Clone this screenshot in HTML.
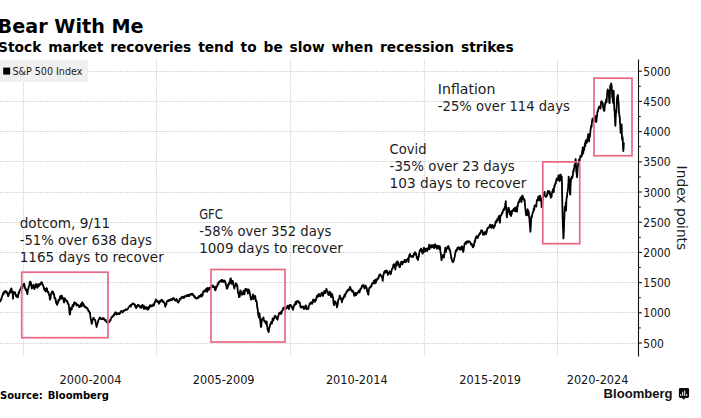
<!DOCTYPE html>
<html lang="en"><head><meta charset="utf-8"><title>Bear With Me</title>
<style>html,body{margin:0;padding:0;background:#fff;}body{width:701px;height:418px;overflow:hidden;}svg{display:block;}text{font-family:"DejaVu Sans", "Liberation Sans", sans-serif;}text.c{font-family:"DejaVu Sans Condensed","DejaVu Sans","Liberation Sans",sans-serif;font-stretch:condensed;}</style>
</head><body>
<svg width="701" height="418" viewBox="0 0 701 418">
<rect x="0" y="0" width="701" height="418" fill="#ffffff"/>
<g stroke="#c8c8c8" stroke-width="1" stroke-dasharray="1.1 1.25" fill="none">
<line x1="0" y1="343.50" x2="638" y2="343.50"/>
<line x1="0" y1="312.50" x2="638" y2="312.50"/>
<line x1="0" y1="282.50" x2="638" y2="282.50"/>
<line x1="0" y1="252.50" x2="638" y2="252.50"/>
<line x1="0" y1="222.50" x2="638" y2="222.50"/>
<line x1="0" y1="192.50" x2="638" y2="192.50"/>
<line x1="0" y1="161.50" x2="638" y2="161.50"/>
<line x1="0" y1="131.50" x2="638" y2="131.50"/>
<line x1="0" y1="101.50" x2="638" y2="101.50"/>
<line x1="0" y1="71.50" x2="638" y2="71.50"/>
</g>
<g stroke="#cccccc" stroke-width="1" stroke-dasharray="1.1 1.25" fill="none">
<line x1="23.50" y1="60" x2="23.50" y2="356.5"/>
<line x1="156.50" y1="60" x2="156.50" y2="356.5"/>
<line x1="290.50" y1="60" x2="290.50" y2="356.5"/>
<line x1="424.50" y1="60" x2="424.50" y2="356.5"/>
<line x1="557.50" y1="60" x2="557.50" y2="356.5"/>
</g>
<rect x="0" y="60" width="88" height="22" fill="#efefef" fill-opacity="0.93"/>
<rect x="3.2" y="67.6" width="7" height="7" fill="#000"/>
<text class="c" x="12.5" y="75" font-size="10.4" fill="#1a1a1a" textLength="69.8" lengthAdjust="spacingAndGlyphs">S&amp;P 500 Index</text>
<path d="M0.00 299.64 L0.16 299.73 L0.32 300.48 L0.48 301.47 L0.64 300.30 L0.80 299.83 L0.96 299.42 L1.12 299.09 L1.28 299.38 L1.44 299.08 L1.60 297.88 L1.76 297.09 L1.92 297.07 L2.08 296.59 L2.24 296.17 L2.40 295.24 L2.56 295.38 L2.72 295.20 L2.88 294.63 L3.04 293.18 L3.20 293.94 L3.36 293.76 L3.52 293.45 L3.68 294.05 L3.84 293.31 L4.00 292.18 L4.16 291.92 L4.32 291.51 L4.48 292.38 L4.64 292.12 L4.80 291.72 L4.96 292.23 L5.12 291.37 L5.28 291.81 L5.44 290.94 L5.60 290.90 L5.76 290.86 L5.92 291.62 L6.08 292.68 L6.24 292.22 L6.40 292.59 L6.56 292.36 L6.72 292.91 L6.88 292.60 L7.04 292.12 L7.20 292.12 L7.36 292.74 L7.52 294.46 L7.68 294.79 L7.84 294.65 L8.00 296.07 L8.16 296.20 L8.32 296.22 L8.48 295.78 L8.64 295.13 L8.80 294.45 L8.96 293.36 L9.12 293.38 L9.28 293.01 L9.44 293.36 L9.60 292.61 L9.76 291.26 L9.92 291.06 L10.08 292.06 L10.24 292.33 L10.40 292.48 L10.56 290.71 L10.72 289.58 L10.88 289.93 L11.04 289.11 L11.20 289.00 L11.36 288.42 L11.52 288.33 L11.68 289.85 L11.84 291.17 L12.00 291.22 L12.16 291.77 L12.32 292.57 L12.48 293.43 L12.64 293.72 L12.80 296.27 L12.96 298.76 L13.12 297.53 L13.28 294.86 L13.44 293.46 L13.60 292.14 L13.76 291.74 L13.92 292.27 L14.08 292.81 L14.24 292.59 L14.40 292.61 L14.56 292.90 L14.72 292.75 L14.88 292.68 L15.04 292.33 L15.20 292.52 L15.36 294.11 L15.52 294.41 L15.68 294.52 L15.84 294.96 L16.00 295.76 L16.16 296.38 L16.32 296.70 L16.48 295.78 L16.64 295.81 L16.80 295.34 L16.96 295.95 L17.12 295.79 L17.28 296.90 L17.44 296.50 L17.60 296.38 L17.76 296.69 L17.92 297.32 L18.08 296.87 L18.24 295.36 L18.40 294.29 L18.56 292.83 L18.72 292.31 L18.88 292.43 L19.04 293.37 L19.20 292.41 L19.36 291.37 L19.52 291.27 L19.68 290.80 L19.84 290.19 L20.00 290.14 L20.16 289.78 L20.32 289.31 L20.48 289.21 L20.64 288.94 L20.80 288.19 L20.96 287.79 L21.12 287.46 L21.28 287.55 L21.44 286.97 L21.60 286.29 L21.76 286.84 L21.92 287.26 L22.08 287.96 L22.24 288.11 L22.40 287.10 L22.56 286.66 L22.72 285.71 L22.88 285.11 L23.04 284.75 L23.20 284.51 L23.36 284.43 L23.52 284.07 L23.68 284.03 L23.84 284.01 L24.00 284.21 L24.16 284.00 L24.32 283.94 L24.48 284.83 L24.64 286.19 L24.80 287.86 L24.96 287.07 L25.12 287.83 L25.28 288.76 L25.44 289.35 L25.60 288.66 L25.76 289.08 L25.92 290.29 L26.08 289.26 L26.24 289.78 L26.40 290.62 L26.56 290.18 L26.72 291.13 L26.88 291.51 L27.04 292.63 L27.20 293.75 L27.36 294.18 L27.52 293.25 L27.68 292.07 L27.84 289.89 L28.00 289.31 L28.16 289.32 L28.32 288.98 L28.48 287.46 L28.64 287.31 L28.80 286.40 L28.96 286.06 L29.12 285.62 L29.28 285.74 L29.44 284.97 L29.60 283.17 L29.76 282.10 L29.92 282.29 L30.08 281.77 L30.24 282.07 L30.40 281.66 L30.56 281.85 L30.72 283.37 L30.88 283.48 L31.04 283.24 L31.20 285.47 L31.36 285.15 L31.52 286.49 L31.68 287.89 L31.84 288.66 L32.00 287.72 L32.16 287.99 L32.32 286.84 L32.48 285.95 L32.64 285.68 L32.80 285.94 L32.96 285.78 L33.12 285.90 L33.28 284.87 L33.44 284.95 L33.60 284.72 L33.76 285.19 L33.92 286.62 L34.08 287.48 L34.24 288.76 L34.40 289.16 L34.56 288.40 L34.72 288.00 L34.88 287.44 L35.04 287.30 L35.20 286.85 L35.36 287.38 L35.52 286.35 L35.68 285.45 L35.84 284.20 L36.00 284.13 L36.16 284.66 L36.32 284.24 L36.48 284.34 L36.64 284.90 L36.80 284.80 L36.96 284.54 L37.12 285.70 L37.28 287.23 L37.44 287.85 L37.60 287.00 L37.76 286.29 L37.92 285.39 L38.08 284.53 L38.24 284.37 L38.40 284.62 L38.56 284.54 L38.72 286.33 L38.88 285.42 L39.04 284.98 L39.20 283.97 L39.36 285.19 L39.52 284.99 L39.68 285.28 L39.84 284.93 L40.00 284.95 L40.16 284.63 L40.32 284.31 L40.48 284.30 L40.64 283.99 L40.80 284.26 L40.96 283.41 L41.12 282.47 L41.28 282.21 L41.44 282.28 L41.60 282.72 L41.76 283.37 L41.92 282.28 L42.08 282.92 L42.24 284.25 L42.40 284.38 L42.56 284.19 L42.72 284.70 L42.88 284.66 L43.04 285.44 L43.20 285.65 L43.36 286.79 L43.52 287.13 L43.68 286.68 L43.84 287.29 L44.00 288.60 L44.16 289.01 L44.32 289.69 L44.48 289.62 L44.64 290.19 L44.80 289.59 L44.96 288.96 L45.12 288.95 L45.28 289.62 L45.44 290.82 L45.60 291.68 L45.76 291.36 L45.92 290.54 L46.08 290.04 L46.24 290.12 L46.40 289.12 L46.56 288.03 L46.72 288.97 L46.88 288.59 L47.04 288.80 L47.20 289.87 L47.36 291.28 L47.52 291.29 L47.68 292.12 L47.84 291.98 L48.00 292.34 L48.16 292.42 L48.32 291.88 L48.48 292.55 L48.64 293.54 L48.80 293.77 L48.96 294.11 L49.12 295.31 L49.28 294.79 L49.44 295.23 L49.60 296.50 L49.76 298.38 L49.92 299.69 L50.08 299.43 L50.24 298.42 L50.40 297.64 L50.56 298.49 L50.72 295.98 L50.88 294.38 L51.04 293.94 L51.20 293.91 L51.36 293.55 L51.52 292.71 L51.68 292.05 L51.84 292.33 L52.00 292.19 L52.16 291.30 L52.32 291.86 L52.48 292.09 L52.64 292.61 L52.80 292.28 L52.96 291.77 L53.12 291.87 L53.28 292.82 L53.44 294.37 L53.60 293.83 L53.76 294.27 L53.92 293.78 L54.08 294.49 L54.24 295.42 L54.40 297.62 L54.56 298.09 L54.72 298.43 L54.88 298.54 L55.04 297.90 L55.20 297.72 L55.36 298.21 L55.52 299.15 L55.68 300.71 L55.84 300.54 L56.00 302.06 L56.16 302.75 L56.32 303.43 L56.48 302.76 L56.64 303.47 L56.80 304.23 L56.96 304.05 L57.12 304.88 L57.28 304.35 L57.44 303.56 L57.60 303.37 L57.76 303.28 L57.92 302.34 L58.08 301.83 L58.24 300.90 L58.40 300.00 L58.56 299.67 L58.72 299.95 L58.88 300.10 L59.04 299.71 L59.20 300.56 L59.36 299.83 L59.52 299.15 L59.68 299.21 L59.84 298.15 L60.00 296.94 L60.16 296.12 L60.32 296.60 L60.48 296.34 L60.64 296.36 L60.80 297.09 L60.96 297.78 L61.12 298.81 L61.28 297.47 L61.44 295.84 L61.60 295.51 L61.76 295.80 L61.92 296.11 L62.08 296.86 L62.24 297.25 L62.40 297.73 L62.56 298.47 L62.72 298.29 L62.88 298.43 L63.04 297.92 L63.20 298.68 L63.36 298.86 L63.52 299.22 L63.68 300.78 L63.84 301.90 L64.00 302.32 L64.16 302.44 L64.32 300.70 L64.48 299.78 L64.64 298.85 L64.80 298.08 L64.96 299.22 L65.12 299.21 L65.28 299.67 L65.44 299.31 L65.60 299.74 L65.76 300.22 L65.92 300.17 L66.08 300.08 L66.24 300.70 L66.40 301.34 L66.56 301.32 L66.72 301.26 L66.88 301.72 L67.04 300.95 L67.20 301.12 L67.36 301.29 L67.52 301.90 L67.68 302.66 L67.84 303.42 L68.00 303.80 L68.16 303.72 L68.32 303.72 L68.48 303.99 L68.64 304.48 L68.80 304.82 L68.96 306.29 L69.12 308.05 L69.28 310.03 L69.44 311.95 L69.60 313.29 L69.76 314.59 L69.92 314.45 L70.08 314.26 L70.24 312.37 L70.40 310.14 L70.56 308.54 L70.72 309.00 L70.88 308.18 L71.04 308.12 L71.20 307.60 L71.36 308.18 L71.52 308.69 L71.68 309.50 L71.84 308.49 L72.00 307.81 L72.16 306.78 L72.32 306.14 L72.48 305.22 L72.64 304.95 L72.80 305.35 L72.96 306.61 L73.12 305.53 L73.28 305.91 L73.44 305.91 L73.60 305.31 L73.76 304.55 L73.92 303.40 L74.08 302.95 L74.24 302.61 L74.40 302.30 L74.56 302.72 L74.72 302.98 L74.88 303.28 L75.04 303.28 L75.20 303.63 L75.36 303.73 L75.52 303.48 L75.68 303.66 L75.84 303.18 L76.00 302.95 L76.16 303.57 L76.32 304.48 L76.48 305.60 L76.64 304.52 L76.80 304.35 L76.96 304.81 L77.12 304.58 L77.28 305.05 L77.44 304.69 L77.60 304.45 L77.76 304.45 L77.92 304.67 L78.08 304.81 L78.24 305.16 L78.40 305.16 L78.56 305.76 L78.72 306.45 L78.88 306.25 L79.04 305.84 L79.20 306.45 L79.36 307.20 L79.52 307.18 L79.68 306.53 L79.84 306.43 L80.00 306.89 L80.16 305.61 L80.32 305.61 L80.48 305.22 L80.64 304.65 L80.80 304.68 L80.96 303.92 L81.12 303.91 L81.28 304.77 L81.44 305.12 L81.60 305.85 L81.76 306.31 L81.92 304.79 L82.08 302.89 L82.24 302.11 L82.40 302.48 L82.56 302.77 L82.72 303.02 L82.88 303.19 L83.04 303.36 L83.20 303.53 L83.36 304.43 L83.52 304.37 L83.68 304.35 L83.84 304.81 L84.00 305.74 L84.16 306.48 L84.32 306.18 L84.48 306.38 L84.64 306.53 L84.80 306.88 L84.96 307.06 L85.12 306.68 L85.28 306.43 L85.44 306.85 L85.60 306.70 L85.76 307.61 L85.92 307.82 L86.08 307.62 L86.24 307.73 L86.40 307.76 L86.56 307.95 L86.72 308.54 L86.88 308.08 L87.04 307.79 L87.20 308.17 L87.36 308.40 L87.52 308.71 L87.68 309.07 L87.84 309.14 L88.00 309.90 L88.16 310.03 L88.32 310.92 L88.48 310.84 L88.64 310.50 L88.80 310.86 L88.96 311.52 L89.12 311.26 L89.28 311.52 L89.44 312.25 L89.60 312.94 L89.76 312.59 L89.92 312.60 L90.08 313.16 L90.24 315.64 L90.40 316.68 L90.56 317.76 L90.72 318.68 L90.88 319.65 L91.04 320.21 L91.20 320.41 L91.36 321.61 L91.52 322.62 L91.68 323.95 L91.84 323.92 L92.00 322.82 L92.16 322.05 L92.32 321.45 L92.48 320.38 L92.64 319.62 L92.80 319.46 L92.96 319.19 L93.12 319.17 L93.28 318.14 L93.44 317.96 L93.60 318.03 L93.76 317.82 L93.92 318.44 L94.08 318.88 L94.24 319.15 L94.40 319.26 L94.56 319.68 L94.72 319.58 L94.88 319.99 L95.04 319.85 L95.20 319.97 L95.36 320.70 L95.52 321.32 L95.68 322.72 L95.84 323.33 L96.00 324.15 L96.16 324.99 L96.32 325.57 L96.48 326.48 L96.64 326.95 L96.80 326.04 L96.96 324.97 L97.12 324.45 L97.28 323.73 L97.44 323.76 L97.60 323.12 L97.76 322.84 L97.92 321.99 L98.08 321.68 L98.24 320.58 L98.40 320.44 L98.56 319.96 L98.72 319.67 L98.88 319.71 L99.04 319.49 L99.20 318.87 L99.36 318.40 L99.52 318.12 L99.68 317.33 L99.84 317.65 L100.00 317.92 L100.16 317.90 L100.32 318.41 L100.48 318.09 L100.64 318.82 L100.80 318.66 L100.96 318.54 L101.12 318.93 L101.28 318.68 L101.44 319.15 L101.60 318.98 L101.76 319.07 L101.92 318.75 L102.08 318.72 L102.24 319.04 L102.40 319.00 L102.56 319.21 L102.72 318.60 L102.88 318.23 L103.04 318.05 L103.20 318.21 L103.36 318.23 L103.52 318.09 L103.68 318.36 L103.84 318.41 L104.00 318.55 L104.16 319.22 L104.32 319.02 L104.48 319.22 L104.64 319.97 L104.80 319.98 L104.96 320.27 L105.12 320.03 L105.28 320.85 L105.44 319.99 L105.60 319.95 L105.76 320.07 L105.92 321.03 L106.08 321.45 L106.24 321.61 L106.40 321.54 L106.56 321.89 L106.72 321.99 L106.88 321.87 L107.04 322.11 L107.20 322.61 L107.36 322.83 L107.52 322.93 L107.68 322.90 L107.84 322.62 L108.00 321.70 L108.16 321.40 L108.32 321.50 L108.48 321.93 L108.64 322.17 L108.80 321.76 L108.96 321.29 L109.12 321.77 L109.28 322.09 L109.44 322.08 L109.60 321.75 L109.76 321.03 L109.92 320.64 L110.08 320.33 L110.24 319.70 L110.40 319.54 L110.56 319.49 L110.72 319.97 L110.88 319.20 L111.04 318.76 L111.20 317.83 L111.36 317.78 L111.52 317.19 L111.68 317.25 L111.84 316.98 L112.00 316.80 L112.16 316.83 L112.32 317.03 L112.48 316.18 L112.64 316.35 L112.80 316.31 L112.96 315.90 L113.12 316.17 L113.28 315.85 L113.44 315.97 L113.60 315.29 L113.76 314.65 L113.92 314.88 L114.08 315.12 L114.24 314.89 L114.40 314.67 L114.56 314.16 L114.72 313.29 L114.88 313.01 L115.04 313.35 L115.20 312.57 L115.36 312.58 L115.52 312.31 L115.68 312.53 L115.84 313.01 L116.00 312.77 L116.16 312.86 L116.32 313.71 L116.48 314.30 L116.64 314.59 L116.80 314.49 L116.96 313.94 L117.12 313.62 L117.28 313.23 L117.44 313.68 L117.60 314.00 L117.76 313.73 L117.92 313.60 L118.08 313.89 L118.24 313.92 L118.40 313.98 L118.56 313.44 L118.72 313.79 L118.88 313.55 L119.04 313.13 L119.20 313.13 L119.36 313.37 L119.52 313.99 L119.68 313.54 L119.84 312.89 L120.00 313.46 L120.16 313.16 L120.32 312.73 L120.48 312.11 L120.64 311.66 L120.80 312.01 L120.96 311.65 L121.12 311.27 L121.28 310.95 L121.44 311.33 L121.60 311.02 L121.76 311.40 L121.92 311.57 L122.08 311.73 L122.24 311.50 L122.40 311.90 L122.56 312.59 L122.72 312.53 L122.88 312.10 L123.04 311.52 L123.20 311.17 L123.36 310.70 L123.52 310.75 L123.68 310.83 L123.84 310.46 L124.00 310.65 L124.16 310.52 L124.32 310.27 L124.48 310.22 L124.64 310.52 L124.80 310.40 L124.96 309.98 L125.12 310.39 L125.28 310.08 L125.44 309.79 L125.60 309.33 L125.76 309.46 L125.92 309.22 L126.08 309.20 L126.24 309.46 L126.40 309.52 L126.56 309.88 L126.72 309.90 L126.88 309.64 L127.04 309.48 L127.20 309.32 L127.36 309.47 L127.52 309.24 L127.68 308.88 L127.84 308.99 L128.00 308.74 L128.16 308.29 L128.32 307.61 L128.48 307.66 L128.64 307.57 L128.80 307.39 L128.96 307.04 L129.12 306.61 L129.28 306.42 L129.44 306.38 L129.60 306.21 L129.76 306.03 L129.92 305.74 L130.08 305.74 L130.24 305.66 L130.40 305.23 L130.56 305.66 L130.72 306.19 L130.88 306.65 L131.04 305.92 L131.20 305.14 L131.36 304.64 L131.52 305.10 L131.68 304.47 L131.84 304.37 L132.00 304.25 L132.16 304.35 L132.32 304.02 L132.48 303.73 L132.64 303.37 L132.80 303.34 L132.96 303.59 L133.12 303.75 L133.28 303.78 L133.44 303.65 L133.60 303.71 L133.76 304.15 L133.92 303.77 L134.08 303.88 L134.24 304.56 L134.40 304.66 L134.56 304.50 L134.72 304.89 L134.88 304.64 L135.04 304.83 L135.20 305.73 L135.36 306.74 L135.52 306.62 L135.68 307.14 L135.84 307.67 L136.00 307.28 L136.16 307.70 L136.32 308.07 L136.48 307.50 L136.64 307.35 L136.80 306.76 L136.96 305.84 L137.12 305.90 L137.28 305.73 L137.44 305.83 L137.60 306.11 L137.76 305.62 L137.92 304.73 L138.08 304.76 L138.24 305.13 L138.40 305.86 L138.56 305.53 L138.72 305.41 L138.88 305.16 L139.04 305.58 L139.20 305.84 L139.36 305.87 L139.52 305.90 L139.68 306.00 L139.84 306.27 L140.00 306.96 L140.16 307.56 L140.32 307.67 L140.48 307.19 L140.64 306.44 L140.80 306.17 L140.96 306.54 L141.12 306.53 L141.28 306.42 L141.44 306.95 L141.60 307.77 L141.76 307.43 L141.92 306.41 L142.08 305.21 L142.24 304.96 L142.40 304.93 L142.56 304.92 L142.72 304.97 L142.88 305.79 L143.04 306.24 L143.20 306.56 L143.36 307.07 L143.52 306.90 L143.68 307.21 L143.84 308.98 L144.00 308.19 L144.16 307.12 L144.32 306.23 L144.48 306.36 L144.64 306.87 L144.80 307.33 L144.96 307.62 L145.12 307.56 L145.28 307.19 L145.44 307.55 L145.60 308.34 L145.76 308.82 L145.92 308.64 L146.08 308.65 L146.24 308.08 L146.40 307.56 L146.56 307.32 L146.72 307.54 L146.88 307.86 L147.04 307.70 L147.20 308.13 L147.36 309.14 L147.52 309.54 L147.68 309.61 L147.84 309.24 L148.00 309.43 L148.16 309.64 L148.32 308.26 L148.48 307.03 L148.64 306.86 L148.80 307.68 L148.96 308.36 L149.12 308.19 L149.28 307.66 L149.44 307.46 L149.60 307.24 L149.76 306.16 L149.92 305.35 L150.08 305.16 L150.24 305.19 L150.40 305.43 L150.56 305.47 L150.72 305.44 L150.88 305.34 L151.04 305.63 L151.20 305.94 L151.36 306.25 L151.52 306.19 L151.68 305.40 L151.84 305.48 L152.00 306.30 L152.16 305.99 L152.32 305.78 L152.48 306.06 L152.64 305.64 L152.80 305.01 L152.96 305.30 L153.12 305.02 L153.28 304.78 L153.44 304.04 L153.60 304.38 L153.76 305.10 L153.92 305.44 L154.08 305.33 L154.24 304.08 L154.40 303.25 L154.56 302.65 L154.72 301.80 L154.88 301.92 L155.04 302.00 L155.20 301.57 L155.36 300.94 L155.52 300.50 L155.68 299.66 L155.84 299.46 L156.00 299.79 L156.16 299.75 L156.32 300.13 L156.48 300.77 L156.64 301.07 L156.80 301.35 L156.96 301.13 L157.12 300.91 L157.28 300.75 L157.44 301.10 L157.60 301.94 L157.76 302.03 L157.92 302.12 L158.08 302.21 L158.24 301.91 L158.40 301.74 L158.56 301.81 L158.72 302.86 L158.88 303.76 L159.04 303.48 L159.20 303.17 L159.36 303.12 L159.52 302.36 L159.68 301.63 L159.84 300.99 L160.00 301.08 L160.16 300.64 L160.32 301.07 L160.48 300.95 L160.64 301.14 L160.80 301.59 L160.96 300.93 L161.12 300.37 L161.28 300.48 L161.44 299.97 L161.60 299.71 L161.76 299.81 L161.92 300.13 L162.08 299.93 L162.24 300.13 L162.40 300.64 L162.56 301.41 L162.72 300.74 L162.88 301.50 L163.04 302.00 L163.20 301.59 L163.36 301.29 L163.52 301.75 L163.68 301.85 L163.84 302.16 L164.00 302.73 L164.16 302.72 L164.32 302.98 L164.48 303.35 L164.64 303.85 L164.80 304.49 L164.96 304.73 L165.12 305.84 L165.28 306.72 L165.44 305.88 L165.60 304.77 L165.76 304.54 L165.92 303.94 L166.08 304.59 L166.24 304.53 L166.40 303.82 L166.56 302.59 L166.72 301.87 L166.88 301.85 L167.04 301.27 L167.20 301.04 L167.36 301.01 L167.52 300.73 L167.68 300.65 L167.84 300.56 L168.00 300.48 L168.16 300.53 L168.32 300.31 L168.48 300.71 L168.64 301.05 L168.80 300.52 L168.96 300.55 L169.12 300.38 L169.28 300.00 L169.44 299.98 L169.60 299.97 L169.76 300.27 L169.92 300.64 L170.08 300.03 L170.24 299.86 L170.40 300.02 L170.56 300.44 L170.72 299.28 L170.88 299.78 L171.04 299.60 L171.20 300.17 L171.36 299.71 L171.52 299.20 L171.68 299.14 L171.84 299.57 L172.00 299.35 L172.16 298.79 L172.32 299.78 L172.48 299.86 L172.64 299.32 L172.80 298.69 L172.96 298.07 L173.12 298.07 L173.28 298.12 L173.44 298.18 L173.60 298.23 L173.76 298.37 L173.92 298.34 L174.08 298.41 L174.24 299.03 L174.40 299.52 L174.56 299.58 L174.72 299.83 L174.88 300.14 L175.04 300.53 L175.20 300.56 L175.36 300.50 L175.52 300.14 L175.68 300.65 L175.84 300.67 L176.00 300.70 L176.16 299.89 L176.32 299.77 L176.48 298.92 L176.64 299.24 L176.80 299.44 L176.96 299.84 L177.12 300.15 L177.28 301.02 L177.44 301.08 L177.60 301.77 L177.76 302.14 L177.92 302.40 L178.08 302.71 L178.24 302.72 L178.40 301.81 L178.56 301.79 L178.72 301.71 L178.88 301.19 L179.04 301.10 L179.20 301.02 L179.36 299.92 L179.52 299.54 L179.68 299.08 L179.84 298.63 L180.00 299.07 L180.16 299.04 L180.32 299.24 L180.48 299.32 L180.64 298.87 L180.80 298.38 L180.96 298.73 L181.12 297.99 L181.28 297.84 L181.44 297.08 L181.60 297.20 L181.76 297.59 L181.92 297.87 L182.08 297.20 L182.24 296.85 L182.40 297.27 L182.56 296.96 L182.72 297.27 L182.88 296.61 L183.04 297.21 L183.20 297.49 L183.36 297.42 L183.52 297.27 L183.68 297.62 L183.84 298.16 L184.00 297.73 L184.16 297.11 L184.32 296.49 L184.48 296.58 L184.64 297.33 L184.80 296.63 L184.96 296.57 L185.12 296.63 L185.28 296.29 L185.44 295.96 L185.60 295.72 L185.76 295.97 L185.92 296.03 L186.08 295.92 L186.24 296.07 L186.40 296.16 L186.56 296.25 L186.72 295.92 L186.88 296.16 L187.04 295.54 L187.20 296.08 L187.36 295.02 L187.52 294.94 L187.68 294.87 L187.84 295.13 L188.00 294.71 L188.16 295.50 L188.32 294.86 L188.48 295.78 L188.64 295.79 L188.80 295.58 L188.96 295.60 L189.12 296.17 L189.28 296.10 L189.44 294.90 L189.60 295.40 L189.76 295.29 L189.92 294.42 L190.08 294.74 L190.24 294.20 L190.40 294.31 L190.56 294.40 L190.72 294.12 L190.88 294.38 L191.04 293.93 L191.20 294.03 L191.36 293.82 L191.52 293.78 L191.68 294.65 L191.84 294.47 L192.00 294.37 L192.16 294.96 L192.32 294.44 L192.48 293.83 L192.64 293.77 L192.80 294.06 L192.96 294.33 L193.12 294.36 L193.28 294.81 L193.44 295.52 L193.60 295.32 L193.76 295.49 L193.92 295.74 L194.08 296.53 L194.24 297.09 L194.40 296.72 L194.56 296.88 L194.72 296.46 L194.88 296.45 L195.04 296.86 L195.20 297.44 L195.36 298.11 L195.52 298.11 L195.68 297.81 L195.84 298.22 L196.00 298.10 L196.16 298.21 L196.32 298.18 L196.48 298.37 L196.64 298.46 L196.80 298.58 L196.96 298.06 L197.12 298.31 L197.28 297.78 L197.44 297.64 L197.60 298.32 L197.76 298.10 L197.92 297.22 L198.08 297.76 L198.24 297.91 L198.40 297.80 L198.56 297.42 L198.72 297.02 L198.88 296.38 L199.04 295.93 L199.20 296.70 L199.36 296.40 L199.52 296.14 L199.68 295.86 L199.84 296.64 L200.00 296.74 L200.16 296.15 L200.32 295.84 L200.48 295.83 L200.64 295.95 L200.80 294.88 L200.96 295.16 L201.12 294.83 L201.28 294.45 L201.44 294.92 L201.60 295.87 L201.76 296.58 L201.92 295.54 L202.08 294.74 L202.24 293.84 L202.40 294.34 L202.56 295.36 L202.72 295.05 L202.88 293.45 L203.04 292.49 L203.20 291.47 L203.36 291.71 L203.52 291.99 L203.68 291.22 L203.84 291.11 L204.00 291.15 L204.16 291.44 L204.32 290.77 L204.48 291.18 L204.64 291.12 L204.80 291.47 L204.96 291.66 L205.12 291.39 L205.28 291.26 L205.44 290.07 L205.60 289.48 L205.76 289.16 L205.92 289.15 L206.08 289.62 L206.24 288.87 L206.40 288.86 L206.56 288.54 L206.72 288.86 L206.88 289.92 L207.04 290.59 L207.20 291.95 L207.36 291.77 L207.52 289.91 L207.68 287.99 L207.84 288.74 L208.00 288.45 L208.16 288.11 L208.32 288.42 L208.48 289.18 L208.64 289.87 L208.80 289.69 L208.96 288.69 L209.12 287.93 L209.28 288.25 L209.44 287.90 L209.60 287.76 L209.76 288.67 L209.92 289.21 L210.08 288.94 L210.24 287.91 L210.40 287.66 L210.56 287.00 L210.72 287.72 L210.88 286.87 L211.04 286.95 L211.20 286.55 L211.36 286.73 L211.52 287.05 L211.68 286.21 L211.84 286.20 L212.00 285.63 L212.16 286.33 L212.32 286.12 L212.48 285.49 L212.64 285.37 L212.80 286.08 L212.96 286.78 L213.12 287.18 L213.28 286.37 L213.44 286.10 L213.60 286.81 L213.76 286.52 L213.92 286.62 L214.08 286.58 L214.24 286.58 L214.40 287.64 L214.56 288.33 L214.72 288.85 L214.88 289.39 L215.04 290.11 L215.20 290.29 L215.36 289.82 L215.52 289.87 L215.68 289.71 L215.84 289.64 L216.00 288.08 L216.16 286.57 L216.32 286.29 L216.48 286.11 L216.64 286.25 L216.80 286.52 L216.96 286.50 L217.12 286.68 L217.28 286.09 L217.44 284.60 L217.60 283.84 L217.76 283.98 L217.92 283.83 L218.08 283.00 L218.24 283.31 L218.40 284.36 L218.56 282.33 L218.72 282.00 L218.88 282.63 L219.04 282.40 L219.20 281.75 L219.36 281.74 L219.52 281.31 L219.68 281.32 L219.84 281.42 L220.00 281.13 L220.16 281.11 L220.32 281.04 L220.48 280.57 L220.64 280.66 L220.80 280.63 L220.96 281.13 L221.12 281.87 L221.28 281.12 L221.44 280.24 L221.60 279.92 L221.76 280.10 L221.92 280.55 L222.08 280.60 L222.24 280.31 L222.40 279.86 L222.56 280.58 L222.72 280.55 L222.88 281.93 L223.04 281.58 L223.20 282.01 L223.36 281.25 L223.52 280.98 L223.68 281.10 L223.84 281.49 L224.00 281.65 L224.16 281.64 L224.32 280.59 L224.48 281.11 L224.64 280.55 L224.80 281.33 L224.96 281.98 L225.12 281.92 L225.28 282.54 L225.44 282.29 L225.60 283.78 L225.76 284.39 L225.92 285.01 L226.08 284.96 L226.24 285.36 L226.40 285.60 L226.56 286.78 L226.72 288.04 L226.88 288.25 L227.04 288.79 L227.20 288.17 L227.36 287.69 L227.52 287.11 L227.68 287.50 L227.84 286.54 L228.00 286.59 L228.16 284.79 L228.32 284.04 L228.48 283.96 L228.64 283.54 L228.80 284.78 L228.96 284.46 L229.12 283.75 L229.28 282.51 L229.44 282.08 L229.60 282.79 L229.76 282.86 L229.92 282.34 L230.08 280.81 L230.24 280.06 L230.40 278.96 L230.56 278.63 L230.72 278.31 L230.88 279.09 L231.04 279.72 L231.20 281.18 L231.36 283.74 L231.52 283.87 L231.68 283.58 L231.84 282.15 L232.00 281.38 L232.16 281.20 L232.32 280.87 L232.48 280.80 L232.64 281.06 L232.80 280.97 L232.96 282.00 L233.12 282.94 L233.28 284.01 L233.44 284.77 L233.60 285.42 L233.76 286.06 L233.92 286.71 L234.08 287.35 L234.24 287.99 L234.40 288.54 L234.56 287.34 L234.72 286.21 L234.88 285.89 L235.04 285.68 L235.20 285.78 L235.36 284.94 L235.52 283.41 L235.68 283.27 L235.84 283.46 L236.00 283.56 L236.16 283.96 L236.32 284.86 L236.48 285.92 L236.64 285.63 L236.80 284.66 L236.96 284.55 L237.12 285.37 L237.28 285.64 L237.44 287.29 L237.60 288.72 L237.76 290.60 L237.92 292.09 L238.08 292.98 L238.24 293.61 L238.40 292.66 L238.56 292.57 L238.72 294.10 L238.88 297.04 L239.04 296.85 L239.20 295.66 L239.36 294.97 L239.52 295.64 L239.68 296.96 L239.84 295.85 L240.00 294.06 L240.16 291.81 L240.32 290.36 L240.48 290.45 L240.64 291.43 L240.80 291.33 L240.96 291.60 L241.12 291.69 L241.28 293.12 L241.44 293.33 L241.60 294.21 L241.76 294.27 L241.92 294.81 L242.08 294.27 L242.24 293.28 L242.40 293.10 L242.56 293.35 L242.72 292.82 L242.88 293.62 L243.04 294.25 L243.20 292.73 L243.36 291.58 L243.52 290.80 L243.68 290.58 L243.84 291.24 L244.00 290.93 L244.16 291.88 L244.32 293.64 L244.48 294.38 L244.64 293.16 L244.80 291.56 L244.96 290.67 L245.12 289.66 L245.28 289.93 L245.44 288.84 L245.60 289.46 L245.76 289.01 L245.92 289.29 L246.08 288.90 L246.24 289.20 L246.40 290.09 L246.56 290.78 L246.72 290.03 L246.88 289.74 L247.04 289.59 L247.20 289.33 L247.36 289.44 L247.52 290.31 L247.68 291.87 L247.84 293.60 L248.00 292.38 L248.16 291.45 L248.32 290.20 L248.48 290.32 L248.64 291.21 L248.80 289.50 L248.96 290.50 L249.12 290.91 L249.28 290.94 L249.44 291.56 L249.60 292.35 L249.76 293.30 L249.92 293.17 L250.08 295.24 L250.24 295.67 L250.40 295.85 L250.56 297.40 L250.72 298.07 L250.88 298.82 L251.04 299.51 L251.20 298.34 L251.36 299.52 L251.52 298.41 L251.68 297.66 L251.84 297.57 L252.00 296.95 L252.16 297.25 L252.32 297.82 L252.48 297.51 L252.64 297.22 L252.80 295.39 L252.96 294.39 L253.12 294.44 L253.28 295.92 L253.44 299.12 L253.60 298.49 L253.76 297.33 L253.92 296.42 L254.08 297.12 L254.24 297.48 L254.40 296.44 L254.56 297.32 L254.72 297.24 L254.88 297.85 L255.04 296.46 L255.20 295.93 L255.36 297.74 L255.52 298.66 L255.68 300.88 L255.84 301.08 L256.00 300.51 L256.16 300.02 L256.32 300.67 L256.48 301.42 L256.64 301.40 L256.80 302.19 L256.96 305.27 L257.12 306.35 L257.28 307.44 L257.44 308.52 L257.60 308.38 L257.76 309.72 L257.92 311.21 L258.08 313.97 L258.24 314.76 L258.40 315.14 L258.56 316.23 L258.72 316.43 L258.88 317.69 L259.04 317.10 L259.20 314.83 L259.36 314.16 L259.52 313.38 L259.68 315.14 L259.84 316.42 L260.00 317.54 L260.16 319.89 L260.32 321.89 L260.48 322.80 L260.64 324.00 L260.80 326.33 L260.96 326.87 L261.12 326.91 L261.28 326.14 L261.44 323.54 L261.60 322.86 L261.76 321.05 L261.92 319.39 L262.08 318.96 L262.24 320.17 L262.40 319.21 L262.56 319.81 L262.72 319.75 L262.88 318.40 L263.04 319.01 L263.20 318.21 L263.36 317.29 L263.52 317.96 L263.68 318.78 L263.84 320.19 L264.00 320.16 L264.16 320.95 L264.32 320.99 L264.48 320.63 L264.64 320.64 L264.80 321.56 L264.96 321.17 L265.12 321.81 L265.28 322.45 L265.44 322.50 L265.60 322.64 L265.76 323.15 L265.92 323.67 L266.08 323.36 L266.24 323.18 L266.40 322.14 L266.56 321.53 L266.72 321.49 L266.88 323.96 L267.04 325.71 L267.20 325.68 L267.36 326.96 L267.52 329.06 L267.68 329.82 L267.84 329.02 L268.00 329.10 L268.16 330.46 L268.32 331.51 L268.48 331.76 L268.64 332.18 L268.80 330.82 L268.96 330.03 L269.12 328.66 L269.28 327.81 L269.44 328.04 L269.60 327.25 L269.76 326.91 L269.92 325.97 L270.08 324.89 L270.24 324.40 L270.40 324.29 L270.56 323.62 L270.72 323.78 L270.88 322.82 L271.04 323.24 L271.20 323.31 L271.36 321.99 L271.52 322.06 L271.68 322.39 L271.84 323.58 L272.00 323.16 L272.16 322.15 L272.32 321.25 L272.48 318.95 L272.64 318.53 L272.80 318.40 L272.96 319.12 L273.12 320.31 L273.28 320.71 L273.44 319.27 L273.60 319.09 L273.76 318.49 L273.92 318.75 L274.08 318.22 L274.24 318.00 L274.40 316.87 L274.56 316.28 L274.72 316.12 L274.88 316.71 L275.04 316.19 L275.20 315.83 L275.36 315.62 L275.52 315.85 L275.68 316.14 L275.84 316.89 L276.00 317.30 L276.16 317.71 L276.32 317.69 L276.48 317.94 L276.64 318.79 L276.80 318.87 L276.96 319.14 L277.12 318.43 L277.28 319.00 L277.44 319.36 L277.60 319.69 L277.76 317.88 L277.92 317.51 L278.08 317.03 L278.24 316.60 L278.40 315.87 L278.56 315.23 L278.72 314.71 L278.88 313.84 L279.04 313.20 L279.20 313.18 L279.36 313.20 L279.52 313.39 L279.68 313.31 L279.84 312.74 L280.00 313.18 L280.16 312.48 L280.32 312.48 L280.48 312.16 L280.64 312.78 L280.80 313.25 L280.96 314.06 L281.12 313.72 L281.28 313.13 L281.44 312.79 L281.60 312.75 L281.76 312.27 L281.92 311.65 L282.08 310.64 L282.24 310.47 L282.40 310.46 L282.56 310.01 L282.72 310.20 L282.88 309.63 L283.04 309.15 L283.20 308.11 L283.36 307.65 L283.52 307.90 L283.68 308.27 L283.84 308.86 L284.00 308.57 L284.16 308.53 L284.32 308.68 L284.48 308.14 L284.64 308.62 L284.80 308.76 L284.96 308.74 L285.12 308.45 L285.28 308.77 L285.44 308.57 L285.60 309.25 L285.76 309.04 L285.92 308.03 L286.08 308.19 L286.24 307.75 L286.40 307.41 L286.56 307.23 L286.72 307.09 L286.88 307.08 L287.04 307.26 L287.20 307.23 L287.36 306.64 L287.52 306.01 L287.68 305.78 L287.84 306.04 L288.00 306.93 L288.16 308.44 L288.32 307.45 L288.48 307.50 L288.64 308.29 L288.80 308.90 L288.96 309.04 L289.12 307.74 L289.28 306.16 L289.44 305.08 L289.60 305.23 L289.76 305.61 L289.92 306.19 L290.08 305.59 L290.24 304.95 L290.40 304.82 L290.56 304.82 L290.72 305.53 L290.88 305.44 L291.04 305.76 L291.20 305.54 L291.36 305.80 L291.52 306.25 L291.68 307.17 L291.84 307.00 L292.00 307.58 L292.16 307.68 L292.32 308.44 L292.48 308.62 L292.64 308.64 L292.80 309.06 L292.96 309.96 L293.12 308.79 L293.28 308.37 L293.44 307.28 L293.60 307.63 L293.76 307.05 L293.92 306.30 L294.08 305.42 L294.24 304.66 L294.40 304.69 L294.56 304.48 L294.72 304.88 L294.88 304.91 L295.04 304.76 L295.20 303.64 L295.36 302.96 L295.52 301.92 L295.68 303.38 L295.84 303.91 L296.00 303.70 L296.16 303.97 L296.32 303.98 L296.48 302.96 L296.64 302.01 L296.80 301.43 L296.96 301.25 L297.12 301.09 L297.28 300.98 L297.44 301.41 L297.60 301.76 L297.76 301.23 L297.92 301.31 L298.08 301.50 L298.24 301.85 L298.40 301.53 L298.56 301.17 L298.72 301.68 L298.88 302.46 L299.04 302.11 L299.20 303.03 L299.36 303.23 L299.52 303.31 L299.68 302.47 L299.84 302.82 L300.00 303.49 L300.16 304.94 L300.32 305.52 L300.48 306.74 L300.64 307.43 L300.80 307.03 L300.96 306.32 L301.12 306.87 L301.28 307.02 L301.44 307.54 L301.60 307.63 L301.76 307.28 L301.92 306.35 L302.08 306.59 L302.24 306.90 L302.40 306.64 L302.56 306.67 L302.72 306.66 L302.88 306.45 L303.04 306.38 L303.20 307.04 L303.36 307.00 L303.52 308.10 L303.68 308.19 L303.84 308.86 L304.00 309.03 L304.16 308.94 L304.32 308.58 L304.48 308.51 L304.64 307.89 L304.80 307.05 L304.96 306.85 L305.12 306.60 L305.28 306.10 L305.44 305.79 L305.60 305.48 L305.76 305.37 L305.92 305.60 L306.08 306.05 L306.24 308.22 L306.40 309.17 L306.56 309.14 L306.72 308.63 L306.88 308.18 L307.04 308.00 L307.20 308.61 L307.36 309.20 L307.52 308.05 L307.68 308.42 L307.84 308.65 L308.00 307.90 L308.16 308.53 L308.32 308.80 L308.48 308.40 L308.64 306.89 L308.80 305.79 L308.96 305.82 L309.12 305.16 L309.28 304.82 L309.44 304.20 L309.60 303.79 L309.76 304.10 L309.92 304.21 L310.08 303.51 L310.24 302.92 L310.40 304.11 L310.56 303.40 L310.72 302.79 L310.88 302.89 L311.04 302.34 L311.20 302.07 L311.36 302.36 L311.52 302.67 L311.68 302.22 L311.84 303.38 L312.00 303.55 L312.16 303.77 L312.32 303.68 L312.48 302.62 L312.64 302.03 L312.80 301.25 L312.96 300.24 L313.12 299.75 L313.28 299.48 L313.44 299.57 L313.60 299.57 L313.76 300.25 L313.92 300.42 L314.08 301.15 L314.24 301.82 L314.40 301.47 L314.56 300.86 L314.72 300.39 L314.88 300.62 L315.04 301.18 L315.20 301.45 L315.36 299.58 L315.52 299.39 L315.68 299.65 L315.84 300.19 L316.00 300.26 L316.16 299.81 L316.32 298.21 L316.48 297.51 L316.64 296.75 L316.80 296.19 L316.96 295.92 L317.12 295.73 L317.28 295.53 L317.44 295.72 L317.60 296.12 L317.76 295.92 L317.92 296.41 L318.08 296.78 L318.24 295.35 L318.40 295.07 L318.56 294.29 L318.72 293.82 L318.88 294.05 L319.04 294.00 L319.20 294.83 L319.36 295.93 L319.52 295.59 L319.68 294.91 L319.84 295.07 L320.00 295.49 L320.16 296.37 L320.32 296.24 L320.48 295.77 L320.64 294.64 L320.80 294.50 L320.96 294.51 L321.12 294.67 L321.28 294.49 L321.44 293.32 L321.60 292.59 L321.76 292.92 L321.92 292.71 L322.08 292.97 L322.24 293.23 L322.40 293.49 L322.56 294.16 L322.72 295.84 L322.88 295.76 L323.04 295.99 L323.20 294.54 L323.36 294.41 L323.52 293.70 L323.68 292.84 L323.84 292.26 L324.00 292.69 L324.16 291.46 L324.32 290.99 L324.48 290.87 L324.64 291.25 L324.80 291.66 L324.96 292.40 L325.12 292.50 L325.28 293.24 L325.44 292.54 L325.60 290.81 L325.76 291.62 L325.92 291.10 L326.08 291.23 L326.24 289.68 L326.40 288.78 L326.56 289.32 L326.72 289.83 L326.88 291.41 L327.04 290.68 L327.20 291.27 L327.36 291.02 L327.52 291.82 L327.68 292.25 L327.84 292.14 L328.00 294.06 L328.16 294.00 L328.32 294.94 L328.48 293.84 L328.64 294.09 L328.80 294.49 L328.96 294.91 L329.12 295.01 L329.28 294.88 L329.44 293.81 L329.60 292.75 L329.76 291.69 L329.92 291.84 L330.08 292.82 L330.24 294.72 L330.40 294.41 L330.56 294.47 L330.72 294.09 L330.88 295.42 L331.04 297.15 L331.20 296.63 L331.36 294.59 L331.52 293.45 L331.68 294.88 L331.84 295.11 L332.00 295.26 L332.16 294.34 L332.32 294.57 L332.48 295.78 L332.64 297.06 L332.80 296.94 L332.96 297.09 L333.12 298.14 L333.28 299.32 L333.44 301.88 L333.60 303.14 L333.76 303.56 L333.92 305.03 L334.08 305.12 L334.24 304.52 L334.40 303.55 L334.56 302.21 L334.72 301.42 L334.88 301.28 L335.04 301.53 L335.20 302.45 L335.36 301.69 L335.52 302.49 L335.68 302.49 L335.84 302.60 L336.00 303.67 L336.16 303.86 L336.32 304.40 L336.48 305.18 L336.64 305.91 L336.80 306.69 L336.96 307.44 L337.12 307.03 L337.28 305.72 L337.44 305.54 L337.60 304.79 L337.76 303.95 L337.92 302.40 L338.08 300.52 L338.24 299.83 L338.40 299.59 L338.56 299.48 L338.72 299.02 L338.88 299.00 L339.04 298.96 L339.20 298.79 L339.36 297.92 L339.52 296.70 L339.68 295.78 L339.84 295.55 L340.00 297.51 L340.16 297.33 L340.32 297.61 L340.48 298.02 L340.64 297.30 L340.80 298.15 L340.96 298.46 L341.12 299.26 L341.28 299.75 L341.44 299.76 L341.60 300.66 L341.76 301.43 L341.92 302.42 L342.08 301.72 L342.24 299.95 L342.40 299.69 L342.56 299.71 L342.72 299.61 L342.88 299.27 L343.04 298.14 L343.20 298.09 L343.36 297.52 L343.52 298.30 L343.68 297.90 L343.84 296.76 L344.00 296.28 L344.16 296.79 L344.32 296.03 L344.48 294.67 L344.64 295.38 L344.80 295.88 L344.96 295.92 L345.12 296.40 L345.28 295.05 L345.44 293.79 L345.60 293.60 L345.76 293.14 L345.92 293.18 L346.08 292.90 L346.24 293.04 L346.40 292.70 L346.56 291.42 L346.72 291.59 L346.88 291.17 L347.04 291.39 L347.20 291.13 L347.36 291.61 L347.52 291.08 L347.68 289.91 L347.84 289.83 L348.00 290.07 L348.16 289.87 L348.32 289.64 L348.48 290.34 L348.64 290.03 L348.80 290.40 L348.96 290.17 L349.12 289.18 L349.28 288.70 L349.44 288.27 L349.60 288.08 L349.76 287.36 L349.92 286.90 L350.08 287.04 L350.24 287.38 L350.40 287.79 L350.56 287.97 L350.72 289.21 L350.88 289.50 L351.04 289.22 L351.20 289.44 L351.36 290.45 L351.52 290.75 L351.68 290.62 L351.84 290.08 L352.00 290.15 L352.16 290.94 L352.32 291.80 L352.48 291.55 L352.64 291.33 L352.80 291.17 L352.96 290.90 L353.12 291.15 L353.28 291.46 L353.44 292.05 L353.60 292.70 L353.76 293.56 L353.92 294.62 L354.08 295.13 L354.24 295.00 L354.40 295.78 L354.56 295.92 L354.72 295.30 L354.88 294.35 L355.04 294.50 L355.20 293.79 L355.36 293.75 L355.52 292.98 L355.68 293.00 L355.84 293.84 L356.00 294.15 L356.16 295.15 L356.32 294.51 L356.48 293.97 L356.64 293.25 L356.80 293.22 L356.96 292.94 L357.12 293.32 L357.28 293.50 L357.44 293.34 L357.60 292.33 L357.76 292.37 L357.92 292.77 L358.08 292.64 L358.24 292.32 L358.40 292.35 L358.56 292.18 L358.72 290.66 L358.88 291.31 L359.04 291.34 L359.20 291.15 L359.36 290.55 L359.52 291.30 L359.68 292.24 L359.84 291.07 L360.00 290.39 L360.16 289.27 L360.32 289.75 L360.48 289.67 L360.64 289.09 L360.80 288.75 L360.96 288.75 L361.12 288.47 L361.28 288.43 L361.44 287.68 L361.60 286.91 L361.76 286.62 L361.92 286.01 L362.08 285.79 L362.24 286.42 L362.40 286.13 L362.56 286.33 L362.72 286.61 L362.88 286.03 L363.04 285.69 L363.20 284.92 L363.36 284.78 L363.52 285.01 L363.68 286.05 L363.84 286.33 L364.00 285.92 L364.16 286.77 L364.32 287.82 L364.48 288.61 L364.64 287.42 L364.80 287.04 L364.96 288.04 L365.12 287.50 L365.28 287.97 L365.44 286.85 L365.60 285.73 L365.76 285.71 L365.92 286.73 L366.08 287.90 L366.24 287.79 L366.40 288.12 L366.56 288.12 L366.72 287.84 L366.88 288.56 L367.04 290.15 L367.20 291.72 L367.36 291.99 L367.52 292.24 L367.68 292.46 L367.84 292.66 L368.00 293.80 L368.16 294.56 L368.32 294.29 L368.48 294.63 L368.64 291.93 L368.80 289.93 L368.96 289.56 L369.12 289.20 L369.28 288.21 L369.44 287.88 L369.60 287.70 L369.76 287.39 L369.92 287.48 L370.08 287.76 L370.24 287.34 L370.40 287.12 L370.56 286.44 L370.72 286.72 L370.88 287.06 L371.04 286.33 L371.20 285.45 L371.36 286.28 L371.52 285.99 L371.68 284.96 L371.84 283.76 L372.00 283.55 L372.16 284.09 L372.32 283.50 L372.48 283.21 L372.64 282.83 L372.80 283.06 L372.96 283.63 L373.12 282.47 L373.28 282.15 L373.44 281.90 L373.60 281.48 L373.76 280.85 L373.92 281.27 L374.08 281.31 L374.24 281.66 L374.40 282.78 L374.56 283.12 L374.72 283.45 L374.88 281.51 L375.04 280.02 L375.20 279.64 L375.36 279.79 L375.52 279.79 L375.68 282.07 L375.84 282.86 L376.00 282.21 L376.16 281.32 L376.32 280.74 L376.48 280.51 L376.64 280.38 L376.80 280.23 L376.96 279.61 L377.12 279.73 L377.28 278.52 L377.44 278.53 L377.60 278.97 L377.76 278.34 L377.92 278.11 L378.08 278.06 L378.24 277.95 L378.40 278.51 L378.56 277.27 L378.72 277.75 L378.88 276.44 L379.04 275.82 L379.20 275.24 L379.36 275.05 L379.52 274.63 L379.68 274.71 L379.84 274.45 L380.00 275.55 L380.16 275.12 L380.32 274.39 L380.48 274.70 L380.64 275.29 L380.80 275.57 L380.96 275.42 L381.12 275.76 L381.28 276.01 L381.44 276.47 L381.60 276.57 L381.76 276.36 L381.92 276.89 L382.08 276.69 L382.24 277.09 L382.40 278.67 L382.56 280.11 L382.72 280.93 L382.88 279.74 L383.04 277.98 L383.20 275.68 L383.36 275.85 L383.52 275.04 L383.68 273.90 L383.84 273.43 L384.00 273.35 L384.16 271.97 L384.32 271.58 L384.48 271.83 L384.64 271.75 L384.80 271.71 L384.96 270.86 L385.12 271.85 L385.28 272.34 L385.44 272.45 L385.60 271.33 L385.76 271.56 L385.92 272.05 L386.08 271.41 L386.24 271.00 L386.40 270.47 L386.56 270.74 L386.72 270.90 L386.88 271.37 L387.04 271.37 L387.20 271.32 L387.36 272.37 L387.52 273.71 L387.68 274.38 L387.84 274.93 L388.00 274.16 L388.16 273.68 L388.32 273.53 L388.48 273.02 L388.64 273.75 L388.80 272.31 L388.96 272.33 L389.12 272.62 L389.28 272.76 L389.44 273.12 L389.60 271.21 L389.76 271.40 L389.92 271.78 L390.08 272.20 L390.24 273.28 L390.40 273.68 L390.56 274.01 L390.72 274.25 L390.88 273.81 L391.04 273.37 L391.20 272.32 L391.36 271.22 L391.52 271.15 L391.68 270.04 L391.84 269.65 L392.00 269.00 L392.16 268.55 L392.32 268.80 L392.48 268.50 L392.64 268.05 L392.80 268.20 L392.96 267.28 L393.12 266.56 L393.28 264.84 L393.44 265.47 L393.60 264.46 L393.76 264.21 L393.92 264.67 L394.08 265.48 L394.24 265.23 L394.40 264.52 L394.56 265.36 L394.72 265.96 L394.88 267.02 L395.04 267.88 L395.20 268.67 L395.36 269.61 L395.52 267.61 L395.68 266.00 L395.84 264.66 L396.00 264.16 L396.16 262.63 L396.32 262.96 L396.48 263.86 L396.64 264.43 L396.80 265.50 L396.96 263.40 L397.12 262.03 L397.28 261.28 L397.44 261.87 L397.60 261.76 L397.76 261.65 L397.92 262.33 L398.08 262.33 L398.24 262.29 L398.40 262.48 L398.56 263.00 L398.72 264.90 L398.88 264.72 L399.04 265.70 L399.20 266.56 L399.36 266.47 L399.52 267.21 L399.68 267.16 L399.84 267.21 L400.00 266.95 L400.16 265.70 L400.32 265.44 L400.48 264.72 L400.64 263.90 L400.80 263.97 L400.96 262.71 L401.12 261.99 L401.28 262.18 L401.44 261.78 L401.60 262.20 L401.76 261.63 L401.92 262.80 L402.08 262.82 L402.24 264.45 L402.40 264.38 L402.56 263.61 L402.72 263.05 L402.88 262.37 L403.04 261.63 L403.20 262.16 L403.36 262.05 L403.52 261.94 L403.68 262.01 L403.84 262.26 L404.00 262.13 L404.16 261.97 L404.32 261.51 L404.48 262.06 L404.64 260.05 L404.80 259.73 L404.96 260.36 L405.12 260.65 L405.28 261.30 L405.44 260.83 L405.60 261.24 L405.76 261.26 L405.92 261.83 L406.08 261.96 L406.24 260.81 L406.40 260.53 L406.56 260.02 L406.72 260.07 L406.88 259.87 L407.04 259.53 L407.20 259.72 L407.36 259.33 L407.52 259.47 L407.68 259.01 L407.84 258.47 L408.00 258.81 L408.16 258.94 L408.32 260.48 L408.48 262.14 L408.64 259.87 L408.80 257.82 L408.96 257.51 L409.12 255.89 L409.28 255.25 L409.44 256.40 L409.60 256.15 L409.76 254.23 L409.92 254.45 L410.08 254.74 L410.24 254.09 L410.40 255.82 L410.56 256.37 L410.72 256.35 L410.88 255.93 L411.04 256.19 L411.20 256.67 L411.36 256.82 L411.52 256.11 L411.68 256.28 L411.84 256.40 L412.00 256.65 L412.16 255.90 L412.32 256.35 L412.48 256.54 L412.64 256.88 L412.80 257.15 L412.96 256.08 L413.12 256.43 L413.28 256.57 L413.44 255.06 L413.60 254.72 L413.76 253.92 L413.92 253.46 L414.08 253.94 L414.24 253.93 L414.40 254.83 L414.56 254.82 L414.72 253.65 L414.88 253.76 L415.04 252.22 L415.20 253.79 L415.36 254.01 L415.52 254.32 L415.68 254.33 L415.84 253.61 L416.00 253.65 L416.16 253.67 L416.32 254.43 L416.48 255.72 L416.64 256.58 L416.80 258.34 L416.96 257.41 L417.12 258.00 L417.28 257.37 L417.44 257.41 L417.60 258.59 L417.76 259.52 L417.92 259.99 L418.08 259.26 L418.24 258.19 L418.40 257.80 L418.56 256.79 L418.72 256.13 L418.88 256.22 L419.04 254.40 L419.20 253.41 L419.36 252.42 L419.52 251.74 L419.68 251.00 L419.84 250.87 L420.00 250.99 L420.16 250.82 L420.32 249.73 L420.48 250.20 L420.64 250.48 L420.80 250.21 L420.96 249.26 L421.12 248.57 L421.28 249.83 L421.44 250.66 L421.60 250.76 L421.76 250.15 L421.92 251.55 L422.08 251.89 L422.24 253.17 L422.40 252.98 L422.56 253.61 L422.72 253.55 L422.88 253.14 L423.04 251.57 L423.20 251.41 L423.36 250.06 L423.52 248.57 L423.68 248.24 L423.84 248.65 L424.00 247.65 L424.16 248.35 L424.32 249.06 L424.48 249.74 L424.64 251.74 L424.80 251.29 L424.96 251.56 L425.12 250.71 L425.28 249.60 L425.44 249.15 L425.60 248.97 L425.76 248.66 L425.92 248.81 L426.08 249.12 L426.24 249.83 L426.40 249.43 L426.56 249.88 L426.72 249.13 L426.88 250.05 L427.04 250.99 L427.20 251.07 L427.36 249.76 L427.52 248.82 L427.68 249.71 L427.84 248.59 L428.00 247.96 L428.16 248.21 L428.32 249.19 L428.48 249.35 L428.64 249.07 L428.80 247.55 L428.96 246.30 L429.12 244.73 L429.28 246.17 L429.44 248.30 L429.60 249.07 L429.76 248.09 L429.92 247.12 L430.08 246.20 L430.24 246.62 L430.40 246.96 L430.56 247.43 L430.72 247.37 L430.88 246.25 L431.04 245.18 L431.20 246.31 L431.36 245.91 L431.52 247.50 L431.68 245.88 L431.84 245.46 L432.00 245.33 L432.16 245.89 L432.32 246.59 L432.48 246.35 L432.64 246.90 L432.80 246.12 L432.96 246.06 L433.12 245.41 L433.28 245.25 L433.44 245.02 L433.60 245.39 L433.76 247.93 L433.92 246.68 L434.08 247.03 L434.24 248.15 L434.40 247.10 L434.56 247.44 L434.72 245.70 L434.88 246.17 L435.04 244.46 L435.20 244.23 L435.36 245.02 L435.52 246.23 L435.68 246.35 L435.84 245.36 L436.00 245.83 L436.16 247.45 L436.32 247.21 L436.48 247.62 L436.64 247.44 L436.80 248.44 L436.96 248.75 L437.12 245.72 L437.28 246.02 L437.44 247.48 L437.60 246.40 L437.76 247.04 L437.92 246.66 L438.08 247.21 L438.24 246.70 L438.40 246.10 L438.56 246.03 L438.72 246.30 L438.88 247.50 L439.04 248.57 L439.20 249.20 L439.36 247.69 L439.52 246.28 L439.68 246.10 L439.84 247.09 L440.00 246.83 L440.16 248.41 L440.32 250.34 L440.48 252.60 L440.64 252.98 L440.80 253.34 L440.96 254.74 L441.12 256.21 L441.28 258.67 L441.44 259.70 L441.60 260.40 L441.76 258.64 L441.92 257.95 L442.08 257.44 L442.24 257.75 L442.40 256.91 L442.56 257.21 L442.72 257.01 L442.88 255.59 L443.04 255.00 L443.20 255.60 L443.36 256.58 L443.52 257.06 L443.68 257.53 L443.84 257.56 L444.00 257.08 L444.16 255.97 L444.32 254.44 L444.48 253.86 L444.64 252.10 L444.80 251.46 L444.96 250.12 L445.12 250.41 L445.28 247.71 L445.44 248.44 L445.60 248.96 L445.76 249.49 L445.92 251.81 L446.08 251.82 L446.24 250.15 L446.40 249.21 L446.56 248.60 L446.72 248.87 L446.88 248.26 L447.04 248.32 L447.20 248.42 L447.36 246.99 L447.52 247.40 L447.68 246.93 L447.84 247.78 L448.00 247.08 L448.16 246.05 L448.32 246.01 L448.48 246.36 L448.64 247.08 L448.80 247.65 L448.96 247.63 L449.12 248.81 L449.28 248.85 L449.44 249.22 L449.60 250.52 L449.76 250.66 L449.92 249.72 L450.08 250.94 L450.24 251.54 L450.40 252.11 L450.56 253.99 L450.72 254.04 L450.88 255.34 L451.04 256.06 L451.20 258.28 L451.36 257.41 L451.52 258.10 L451.68 258.84 L451.84 260.13 L452.00 260.02 L452.16 259.96 L452.32 261.62 L452.48 261.41 L452.64 261.75 L452.80 261.81 L452.96 262.25 L453.12 261.47 L453.28 261.53 L453.44 261.64 L453.60 260.90 L453.76 260.81 L453.92 260.11 L454.08 259.39 L454.24 258.12 L454.40 257.97 L454.56 257.03 L454.72 257.05 L454.88 255.71 L455.04 254.07 L455.20 253.74 L455.36 253.17 L455.52 251.63 L455.68 251.52 L455.84 251.19 L456.00 250.26 L456.16 250.57 L456.32 250.35 L456.48 250.28 L456.64 250.77 L456.80 250.01 L456.96 250.13 L457.12 249.01 L457.28 248.02 L457.44 248.35 L457.60 248.55 L457.76 248.19 L457.92 248.19 L458.08 248.29 L458.24 247.41 L458.40 247.99 L458.56 248.07 L458.72 247.48 L458.88 247.27 L459.04 248.03 L459.20 247.67 L459.36 249.49 L459.52 249.20 L459.68 249.70 L459.84 248.32 L460.00 248.16 L460.16 247.82 L460.32 248.26 L460.48 248.26 L460.64 247.97 L460.80 249.26 L460.96 249.65 L461.12 249.15 L461.28 249.09 L461.44 246.99 L461.60 246.39 L461.76 246.70 L461.92 246.30 L462.08 246.65 L462.24 246.76 L462.40 247.86 L462.56 248.51 L462.72 249.09 L462.88 250.17 L463.04 251.50 L463.20 252.15 L463.36 251.41 L463.52 251.03 L463.68 250.15 L463.84 248.57 L464.00 246.99 L464.16 246.10 L464.32 245.24 L464.48 244.46 L464.64 243.51 L464.80 243.58 L464.96 243.63 L465.12 243.34 L465.28 243.38 L465.44 242.90 L465.60 242.05 L465.76 242.09 L465.92 242.46 L466.08 243.81 L466.24 241.99 L466.40 241.58 L466.56 241.44 L466.72 242.06 L466.88 242.25 L467.04 242.15 L467.20 242.24 L467.36 241.33 L467.52 241.30 L467.68 242.25 L467.84 242.55 L468.00 241.36 L468.16 242.57 L468.32 241.87 L468.48 241.94 L468.64 241.57 L468.80 241.35 L468.96 241.15 L469.12 241.78 L469.28 241.64 L469.44 241.38 L469.60 241.58 L469.76 242.04 L469.92 241.86 L470.08 242.47 L470.24 242.24 L470.40 242.62 L470.56 243.25 L470.72 243.75 L470.88 244.48 L471.04 244.59 L471.20 244.38 L471.36 243.72 L471.52 244.07 L471.68 244.20 L471.84 244.16 L472.00 244.32 L472.16 245.41 L472.32 245.78 L472.48 246.65 L472.64 246.80 L472.80 246.71 L472.96 247.33 L473.12 247.34 L473.28 246.34 L473.44 246.06 L473.60 245.97 L473.76 246.28 L473.92 245.36 L474.08 243.49 L474.24 243.03 L474.40 243.33 L474.56 242.09 L474.72 240.86 L474.88 241.19 L475.04 241.67 L475.20 240.62 L475.36 239.32 L475.52 238.22 L475.68 237.86 L475.84 237.52 L476.00 236.96 L476.16 237.42 L476.32 236.88 L476.48 236.60 L476.64 236.07 L476.80 236.94 L476.96 237.52 L477.12 238.08 L477.28 237.16 L477.44 237.81 L477.60 237.62 L477.76 237.73 L477.92 237.71 L478.08 237.13 L478.24 236.73 L478.40 235.58 L478.56 235.20 L478.72 235.01 L478.88 234.34 L479.04 234.40 L479.20 234.96 L479.36 234.39 L479.52 233.69 L479.68 233.17 L479.84 233.22 L480.00 234.08 L480.16 233.74 L480.32 233.34 L480.48 232.16 L480.64 232.05 L480.80 232.06 L480.96 231.35 L481.12 230.96 L481.28 230.26 L481.44 230.36 L481.60 230.79 L481.76 230.39 L481.92 230.47 L482.08 230.39 L482.24 230.50 L482.40 231.02 L482.56 231.85 L482.72 233.51 L482.88 233.92 L483.04 234.73 L483.20 233.53 L483.36 232.86 L483.52 232.93 L483.68 233.27 L483.84 233.97 L484.00 233.69 L484.16 234.90 L484.32 233.63 L484.48 232.68 L484.64 233.79 L484.80 233.61 L484.96 233.71 L485.12 232.72 L485.28 231.53 L485.44 231.76 L485.60 232.02 L485.76 233.37 L485.92 234.17 L486.08 234.11 L486.24 232.34 L486.40 231.71 L486.56 232.57 L486.72 231.75 L486.88 231.15 L487.04 230.27 L487.20 228.85 L487.36 228.42 L487.52 228.16 L487.68 227.95 L487.84 228.32 L488.00 228.28 L488.16 228.18 L488.32 227.89 L488.48 227.84 L488.64 227.24 L488.80 226.95 L488.96 227.34 L489.12 227.03 L489.28 227.16 L489.44 226.91 L489.60 226.20 L489.76 225.11 L489.92 225.15 L490.08 224.70 L490.24 225.36 L490.40 225.36 L490.56 226.52 L490.72 227.19 L490.88 226.12 L491.04 225.45 L491.20 226.29 L491.36 227.38 L491.52 227.96 L491.68 226.81 L491.84 226.56 L492.00 225.71 L492.16 224.86 L492.32 225.49 L492.48 225.46 L492.64 225.08 L492.80 225.72 L492.96 225.82 L493.12 227.03 L493.28 227.03 L493.44 227.84 L493.60 228.26 L493.76 227.79 L493.92 227.33 L494.08 226.71 L494.24 226.76 L494.40 226.23 L494.56 226.02 L494.72 225.37 L494.88 226.08 L495.04 224.49 L495.20 224.24 L495.36 222.41 L495.52 222.22 L495.68 222.49 L495.84 221.15 L496.00 222.86 L496.16 222.28 L496.32 222.09 L496.48 222.11 L496.64 221.23 L496.80 221.61 L496.96 221.60 L497.12 219.59 L497.28 218.89 L497.44 219.07 L497.60 219.67 L497.76 219.89 L497.92 220.09 L498.08 219.92 L498.24 218.68 L498.40 218.13 L498.56 216.91 L498.72 217.01 L498.88 217.25 L499.04 216.24 L499.20 215.61 L499.36 216.66 L499.52 218.24 L499.68 219.61 L499.84 222.80 L500.00 222.38 L500.16 219.75 L500.32 217.14 L500.48 216.20 L500.64 215.85 L500.80 215.09 L500.96 215.20 L501.12 215.09 L501.28 215.20 L501.44 214.79 L501.60 214.21 L501.76 214.07 L501.92 212.78 L502.08 212.87 L502.24 213.52 L502.40 213.46 L502.56 212.33 L502.72 211.12 L502.88 211.71 L503.04 210.99 L503.20 210.50 L503.36 210.28 L503.52 209.49 L503.68 209.19 L503.84 210.05 L504.00 208.90 L504.16 209.80 L504.32 208.84 L504.48 207.87 L504.64 207.60 L504.80 207.19 L504.96 206.48 L505.12 205.69 L505.28 203.55 L505.44 204.08 L505.60 202.37 L505.76 201.21 L505.92 204.15 L506.08 206.56 L506.24 208.16 L506.40 210.02 L506.56 212.45 L506.72 215.84 L506.88 217.33 L507.04 214.91 L507.20 213.38 L507.36 212.97 L507.52 212.43 L507.68 211.60 L507.84 212.00 L508.00 212.03 L508.16 209.80 L508.32 208.41 L508.48 207.83 L508.64 207.72 L508.80 208.50 L508.96 208.56 L509.12 210.11 L509.28 211.16 L509.44 211.85 L509.60 213.03 L509.76 214.14 L509.92 214.57 L510.08 214.67 L510.24 213.90 L510.40 213.50 L510.56 211.03 L510.72 212.72 L510.88 215.76 L511.04 216.00 L511.20 214.19 L511.36 212.65 L511.52 212.90 L511.68 214.16 L511.84 213.64 L512.00 211.95 L512.16 210.78 L512.32 211.03 L512.48 210.80 L512.64 210.19 L512.80 210.64 L512.96 209.94 L513.12 209.71 L513.28 209.87 L513.44 209.30 L513.60 209.38 L513.76 208.87 L513.92 211.03 L514.08 209.99 L514.24 210.17 L514.40 208.99 L514.56 208.06 L514.72 208.07 L514.88 207.89 L515.04 208.36 L515.20 209.37 L515.36 210.67 L515.52 211.31 L515.68 211.10 L515.84 210.34 L516.00 210.32 L516.16 209.50 L516.32 208.16 L516.48 206.77 L516.64 207.65 L516.80 211.09 L516.96 211.69 L517.12 209.63 L517.28 209.08 L517.44 206.78 L517.60 205.93 L517.76 205.99 L517.92 205.51 L518.08 202.96 L518.24 202.64 L518.40 202.80 L518.56 201.99 L518.72 202.72 L518.88 202.40 L519.04 202.34 L519.20 202.23 L519.36 200.31 L519.52 199.94 L519.68 199.59 L519.84 199.36 L520.00 200.67 L520.16 200.03 L520.32 199.73 L520.48 197.86 L520.64 197.52 L520.80 197.30 L520.96 197.33 L521.12 198.01 L521.28 200.41 L521.44 202.09 L521.60 201.84 L521.76 197.76 L521.92 197.51 L522.08 197.38 L522.24 195.72 L522.40 196.22 L522.56 195.69 L522.72 196.80 L522.88 197.05 L523.04 197.00 L523.20 199.27 L523.36 198.88 L523.52 198.59 L523.68 198.93 L523.84 199.39 L524.00 198.95 L524.16 200.09 L524.32 200.91 L524.48 200.75 L524.64 199.80 L524.80 202.21 L524.96 204.65 L525.12 206.35 L525.28 207.98 L525.44 209.93 L525.60 210.75 L525.76 212.37 L525.92 214.29 L526.08 214.98 L526.24 215.21 L526.40 212.76 L526.56 211.24 L526.72 211.36 L526.88 210.56 L527.04 210.53 L527.20 210.24 L527.36 209.66 L527.52 209.26 L527.68 209.38 L527.84 213.58 L528.00 215.40 L528.16 213.27 L528.32 210.92 L528.48 211.61 L528.64 211.59 L528.80 213.07 L528.96 214.73 L529.12 217.39 L529.28 217.68 L529.44 219.34 L529.60 221.09 L529.76 223.91 L529.92 225.35 L530.08 227.39 L530.24 228.95 L530.40 231.74 L530.56 229.92 L530.72 226.90 L530.88 224.85 L531.04 221.20 L531.20 219.06 L531.36 216.87 L531.52 216.13 L531.68 216.33 L531.84 217.37 L532.00 216.35 L532.16 215.14 L532.32 213.94 L532.48 213.74 L532.64 212.68 L532.80 212.63 L532.96 212.82 L533.12 212.32 L533.28 211.13 L533.44 211.06 L533.60 209.77 L533.76 208.16 L533.92 208.73 L534.08 209.85 L534.24 209.88 L534.40 208.82 L534.56 205.80 L534.72 205.38 L534.88 205.78 L535.04 205.35 L535.20 206.13 L535.36 205.06 L535.52 205.07 L535.68 204.94 L535.84 205.89 L536.00 205.65 L536.16 206.60 L536.32 206.14 L536.48 204.34 L536.64 202.01 L536.80 200.70 L536.96 200.02 L537.12 200.19 L537.28 200.58 L537.44 200.35 L537.60 200.10 L537.76 199.32 L537.92 198.94 L538.08 197.06 L538.24 196.94 L538.40 197.28 L538.56 197.99 L538.72 200.26 L538.88 198.41 L539.04 196.47 L539.20 196.20 L539.36 197.31 L539.52 198.07 L539.68 200.27 L539.84 196.43 L540.00 195.76 L540.16 195.85 L540.32 196.58 L540.48 197.29 L540.64 198.00 L540.80 198.75 L540.96 199.57 L541.12 200.39 L541.28 201.99 L541.44 202.57 L541.60 205.89 L541.76 207.34 L541.92 207.22 L542.08 206.14 L542.24 205.15 L542.40 202.12 L542.56 199.44 L542.72 199.28 L542.88 197.01 L543.04 196.54 L543.20 196.50 L543.36 194.45 L543.52 194.56 L543.68 194.14 L543.84 194.14 L544.00 192.67 L544.16 192.45 L544.32 192.43 L544.48 191.83 L544.64 193.74 L544.80 194.65 L544.96 195.31 L545.12 195.88 L545.28 196.45 L545.44 195.83 L545.60 195.50 L545.76 196.90 L545.92 196.95 L546.08 196.62 L546.24 196.67 L546.40 195.48 L546.56 195.35 L546.72 195.99 L546.88 195.87 L547.04 194.39 L547.20 194.81 L547.36 193.81 L547.52 191.72 L547.68 191.58 L547.84 190.94 L548.00 191.48 L548.16 191.89 L548.32 191.72 L548.48 191.54 L548.64 192.19 L548.80 192.14 L548.96 192.92 L549.12 193.17 L549.28 191.86 L549.44 191.18 L549.60 191.95 L549.76 193.16 L549.92 194.70 L550.08 193.83 L550.24 193.22 L550.40 195.66 L550.56 195.95 L550.72 197.42 L550.88 197.79 L551.04 196.04 L551.20 196.68 L551.36 196.25 L551.52 196.70 L551.68 196.04 L551.84 193.88 L552.00 193.03 L552.16 193.22 L552.32 191.57 L552.48 191.14 L552.64 191.73 L552.80 189.82 L552.96 189.15 L553.12 188.96 L553.28 189.43 L553.44 190.03 L553.60 190.45 L553.76 192.12 L553.92 189.62 L554.08 188.03 L554.24 186.51 L554.40 185.76 L554.56 186.15 L554.72 186.67 L554.88 184.47 L555.04 184.55 L555.20 183.84 L555.36 183.13 L555.52 182.82 L555.68 183.59 L555.84 182.71 L556.00 181.79 L556.16 180.33 L556.32 180.05 L556.48 179.87 L556.64 178.86 L556.80 178.54 L556.96 178.83 L557.12 179.88 L557.28 178.89 L557.44 180.43 L557.60 180.15 L557.76 179.74 L557.92 179.33 L558.08 178.47 L558.24 176.82 L558.40 176.12 L558.56 175.63 L558.72 175.27 L558.88 176.37 L559.04 176.51 L559.20 178.07 L559.36 180.01 L559.52 181.16 L559.68 179.02 L559.84 177.26 L560.00 174.93 L560.16 174.84 L560.32 174.92 L560.48 174.59 L560.64 174.74 L560.80 174.90 L560.96 175.05 L561.12 175.21 L561.28 177.03 L561.44 180.51 L561.60 180.80 L561.76 176.59 L561.92 183.23 L562.08 192.23 L562.24 201.74 L562.40 207.18 L562.56 216.24 L562.72 219.72 L562.88 226.14 L563.04 228.51 L563.20 231.94 L563.36 238.37 L563.52 238.23 L563.68 234.74 L563.84 231.39 L564.00 227.74 L564.16 220.53 L564.32 219.53 L564.48 214.02 L564.64 210.21 L564.80 206.97 L564.96 208.91 L565.12 207.40 L565.28 208.08 L565.44 206.08 L565.60 205.81 L565.76 202.63 L565.92 206.73 L566.08 210.64 L566.24 205.87 L566.40 199.38 L566.56 198.72 L566.72 198.52 L566.88 196.44 L567.04 196.81 L567.20 193.12 L567.36 192.92 L567.52 192.95 L567.68 191.34 L567.84 189.52 L568.00 188.64 L568.16 186.44 L568.32 184.12 L568.48 182.85 L568.64 176.70 L568.80 177.64 L568.96 178.22 L569.12 178.65 L569.28 180.23 L569.44 182.37 L569.60 184.37 L569.76 188.64 L569.92 191.67 L570.08 194.32 L570.24 194.67 L570.40 190.27 L570.56 186.20 L570.72 183.10 L570.88 181.12 L571.04 178.44 L571.20 178.41 L571.36 178.54 L571.52 177.71 L571.68 176.58 L571.84 178.60 L572.00 176.59 L572.16 177.59 L572.32 177.78 L572.48 176.13 L572.64 176.75 L572.80 175.29 L572.96 174.36 L573.12 171.09 L573.28 171.42 L573.44 170.47 L573.60 171.51 L573.76 170.89 L573.92 169.53 L574.08 167.68 L574.24 167.26 L574.40 166.31 L574.56 164.98 L574.72 166.76 L574.88 164.73 L575.04 164.25 L575.20 164.26 L575.36 161.60 L575.52 159.29 L575.68 159.07 L575.84 161.73 L576.00 165.51 L576.16 169.16 L576.32 171.42 L576.48 172.66 L576.64 173.58 L576.80 174.64 L576.96 176.69 L577.12 177.22 L577.28 173.80 L577.44 171.30 L577.60 168.61 L577.76 166.99 L577.92 166.35 L578.08 164.67 L578.24 164.52 L578.40 161.72 L578.56 161.63 L578.72 162.00 L578.88 161.10 L579.04 159.41 L579.20 159.89 L579.36 159.60 L579.52 161.25 L579.68 159.75 L579.84 159.03 L580.00 158.20 L580.16 157.90 L580.32 155.84 L580.48 157.04 L580.64 157.27 L580.80 156.33 L580.96 155.43 L581.12 155.84 L581.28 156.53 L581.44 156.29 L581.60 156.54 L581.76 155.66 L581.92 153.79 L582.08 152.19 L582.24 151.02 L582.40 150.48 L582.56 148.74 L582.72 147.42 L582.88 148.22 L583.04 151.90 L583.20 153.64 L583.36 151.37 L583.52 149.06 L583.68 148.05 L583.84 148.90 L584.00 150.34 L584.16 150.05 L584.32 148.29 L584.48 146.40 L584.64 146.65 L584.80 144.96 L584.96 143.23 L585.12 144.35 L585.28 146.25 L585.44 144.64 L585.60 141.53 L585.76 140.34 L585.92 141.65 L586.08 140.59 L586.24 141.10 L586.40 142.43 L586.56 143.00 L586.72 142.19 L586.88 142.54 L587.04 141.99 L587.20 140.91 L587.36 138.28 L587.52 139.45 L587.68 138.88 L587.84 136.63 L588.00 136.21 L588.16 134.36 L588.32 134.14 L588.48 134.20 L588.64 137.45 L588.80 140.06 L588.96 141.45 L589.12 140.85 L589.28 139.52 L589.44 137.38 L589.60 137.62 L589.76 136.58 L589.92 136.31 L590.08 135.37 L590.24 133.22 L590.40 131.38 L590.56 129.85 L590.72 128.58 L590.88 128.22 L591.04 127.11 L591.20 125.55 L591.36 126.42 L591.52 126.83 L591.68 125.38 L591.84 122.92 L592.00 121.81 L592.16 120.76 L592.32 119.74 L592.48 118.78 L592.64 119.04 L592.80 119.13 L592.96 119.36 L593.12 118.39 L593.28 118.80 L593.44 121.08 L593.60 120.69 L593.76 119.53 L593.92 121.19 L594.08 120.96 L594.24 119.54 L594.40 119.94 L594.56 118.27 L594.72 117.42 L594.88 118.37 L595.04 117.06 L595.20 115.98 L595.36 117.80 L595.52 119.65 L595.68 118.81 L595.84 119.53 L596.00 121.73 L596.16 122.06 L596.32 121.95 L596.48 120.50 L596.64 118.57 L596.80 117.12 L596.96 116.07 L597.12 115.51 L597.28 112.57 L597.44 111.94 L597.60 111.32 L597.76 111.89 L597.92 111.02 L598.08 110.86 L598.24 109.53 L598.40 108.19 L598.56 108.39 L598.72 108.24 L598.88 107.81 L599.04 106.63 L599.20 107.03 L599.36 107.10 L599.52 106.87 L599.68 106.75 L599.84 106.33 L600.00 106.81 L600.16 106.99 L600.32 108.64 L600.48 108.45 L600.64 107.63 L600.80 104.84 L600.96 104.35 L601.12 101.58 L601.28 103.26 L601.44 101.60 L601.60 101.29 L601.76 102.92 L601.92 102.09 L602.08 102.30 L602.24 102.58 L602.40 102.28 L602.56 104.04 L602.72 103.35 L602.88 103.85 L603.04 107.54 L603.20 107.52 L603.36 108.51 L603.52 107.68 L603.68 110.39 L603.84 109.75 L604.00 109.96 L604.16 110.55 L604.32 110.90 L604.48 109.89 L604.64 108.19 L604.80 106.27 L604.96 104.70 L605.12 103.06 L605.28 102.92 L605.44 103.45 L605.60 103.77 L605.76 102.02 L605.92 100.92 L606.08 99.48 L606.24 99.38 L606.40 99.48 L606.56 100.72 L606.72 102.03 L606.88 97.09 L607.04 95.27 L607.20 93.57 L607.36 91.18 L607.52 90.58 L607.68 89.50 L607.84 92.59 L608.00 92.97 L608.16 91.16 L608.32 90.72 L608.48 91.22 L608.64 91.70 L608.80 93.83 L608.96 96.57 L609.12 99.54 L609.28 102.69 L609.44 102.78 L609.60 103.07 L609.76 101.48 L609.92 94.06 L610.08 89.50 L610.24 86.67 L610.40 84.99 L610.56 85.52 L610.72 85.11 L610.88 84.95 L611.04 84.28 L611.20 83.39 L611.36 84.25 L611.52 85.11 L611.68 86.25 L611.84 89.16 L612.00 92.41 L612.16 95.65 L612.32 97.55 L612.48 97.80 L612.64 98.43 L612.80 99.21 L612.96 101.60 L613.12 102.90 L613.28 98.29 L613.44 95.71 L613.60 90.70 L613.76 92.48 L613.92 98.17 L614.08 103.96 L614.24 107.69 L614.40 110.78 L614.56 110.06 L614.72 112.52 L614.88 117.96 L615.04 117.07 L615.20 124.36 L615.36 125.88 L615.52 123.60 L615.68 118.32 L615.84 114.32 L616.00 113.76 L616.16 111.41 L616.32 112.43 L616.48 109.14 L616.64 107.22 L616.80 102.78 L616.96 99.14 L617.12 96.97 L617.28 96.66 L617.44 98.48 L617.60 96.25 L617.76 94.95 L617.92 95.95 L618.08 96.04 L618.24 99.39 L618.40 101.61 L618.56 102.45 L618.72 105.33 L618.88 110.05 L619.04 113.21 L619.20 113.04 L619.36 115.38 L619.52 116.76 L619.68 116.32 L619.84 117.59 L620.00 123.13 L620.16 123.30 L620.32 128.02 L620.48 130.27 L620.64 132.95 L620.80 131.62 L620.96 130.06 L621.12 127.77 L621.28 125.99 L621.44 125.48 L621.60 124.32 L621.76 128.67 L621.92 135.92 L622.08 138.59 L622.24 139.97 L622.40 139.97 L622.56 137.01 L622.72 138.58 L622.88 141.94 L623.04 148.06 L623.20 149.76 L623.36 151.05 L623.52 148.40 L623.68 146.30 L623.84 142.42" fill="none" stroke="#000" stroke-width="1.8" stroke-linejoin="round" stroke-linecap="butt"/>
<g fill="none" stroke="#ea6683" stroke-width="1.7">
<rect x="21.70" y="272.20" width="86.30" height="65.50"/>
<rect x="211.00" y="269.50" width="74.00" height="72.50"/>
<rect x="542.80" y="161.90" width="36.95" height="81.80"/>
<rect x="594.00" y="78.20" width="38.00" height="77.55"/>
</g>
<text class="c" x="19.7" y="227.9" font-size="14.4" fill="#1c1c1c" textLength="90.5" lengthAdjust="spacingAndGlyphs">dotcom, 9/11</text>
<text class="c" x="19.7" y="244.7" font-size="14.4" fill="#1c1c1c" textLength="132.3" lengthAdjust="spacingAndGlyphs">-51% over 638 days</text>
<text class="c" x="19.7" y="261.5" font-size="14.4" fill="#1c1c1c" textLength="144.0" lengthAdjust="spacingAndGlyphs">1165 days to recover</text>
<text class="c" x="199.2" y="219.0" font-size="14.4" fill="#1c1c1c" textLength="23.6" lengthAdjust="spacingAndGlyphs">GFC</text>
<text class="c" x="199.2" y="235.8" font-size="14.4" fill="#1c1c1c" textLength="132.3" lengthAdjust="spacingAndGlyphs">-58% over 352 days</text>
<text class="c" x="199.2" y="252.6" font-size="14.4" fill="#1c1c1c" textLength="143.6" lengthAdjust="spacingAndGlyphs">1009 days to recover</text>
<text class="c" x="389.6" y="154.3" font-size="14.4" fill="#1c1c1c" textLength="37.0" lengthAdjust="spacingAndGlyphs">Covid</text>
<text class="c" x="389.6" y="171.1" font-size="14.4" fill="#1c1c1c" textLength="125.2" lengthAdjust="spacingAndGlyphs">-35% over 23 days</text>
<text class="c" x="389.6" y="187.9" font-size="14.4" fill="#1c1c1c" textLength="136.8" lengthAdjust="spacingAndGlyphs">103 days to recover</text>
<text class="c" x="437.8" y="94.2" font-size="14.4" fill="#1c1c1c" textLength="57.6" lengthAdjust="spacingAndGlyphs">Inflation</text>
<text class="c" x="437.8" y="111.0" font-size="14.4" fill="#1c1c1c" textLength="132.0" lengthAdjust="spacingAndGlyphs">-25% over 114 days</text>
<g stroke="#111" stroke-width="1.1" fill="none">
<line x1="638.5" y1="59.5" x2="638.5" y2="356.5"/>
<line x1="638.5" y1="343.00" x2="641.9" y2="343.00"/>
<line x1="638.5" y1="312.80" x2="641.9" y2="312.80"/>
<line x1="638.5" y1="282.60" x2="641.9" y2="282.60"/>
<line x1="638.5" y1="252.40" x2="641.9" y2="252.40"/>
<line x1="638.5" y1="222.20" x2="641.9" y2="222.20"/>
<line x1="638.5" y1="192.00" x2="641.9" y2="192.00"/>
<line x1="638.5" y1="161.80" x2="641.9" y2="161.80"/>
<line x1="638.5" y1="131.60" x2="641.9" y2="131.60"/>
<line x1="638.5" y1="101.40" x2="641.9" y2="101.40"/>
<line x1="638.5" y1="71.20" x2="641.9" y2="71.20"/>
<line x1="638.5" y1="327.90" x2="640.8" y2="327.90" stroke-width="1"/>
<line x1="638.5" y1="297.70" x2="640.8" y2="297.70" stroke-width="1"/>
<line x1="638.5" y1="267.50" x2="640.8" y2="267.50" stroke-width="1"/>
<line x1="638.5" y1="237.30" x2="640.8" y2="237.30" stroke-width="1"/>
<line x1="638.5" y1="207.10" x2="640.8" y2="207.10" stroke-width="1"/>
<line x1="638.5" y1="176.90" x2="640.8" y2="176.90" stroke-width="1"/>
<line x1="638.5" y1="146.70" x2="640.8" y2="146.70" stroke-width="1"/>
<line x1="638.5" y1="116.50" x2="640.8" y2="116.50" stroke-width="1"/>
<line x1="638.5" y1="86.30" x2="640.8" y2="86.30" stroke-width="1"/>
</g>
<text class="c" x="643.3" y="347.60" font-size="12.2" fill="#111" textLength="20.5" lengthAdjust="spacingAndGlyphs">500</text>
<text class="c" x="643.3" y="317.40" font-size="12.2" fill="#111" textLength="27.4" lengthAdjust="spacingAndGlyphs">1000</text>
<text class="c" x="643.3" y="287.20" font-size="12.2" fill="#111" textLength="27.4" lengthAdjust="spacingAndGlyphs">1500</text>
<text class="c" x="643.3" y="257.00" font-size="12.2" fill="#111" textLength="27.4" lengthAdjust="spacingAndGlyphs">2000</text>
<text class="c" x="643.3" y="226.80" font-size="12.2" fill="#111" textLength="27.4" lengthAdjust="spacingAndGlyphs">2500</text>
<text class="c" x="643.3" y="196.60" font-size="12.2" fill="#111" textLength="27.4" lengthAdjust="spacingAndGlyphs">3000</text>
<text class="c" x="643.3" y="166.40" font-size="12.2" fill="#111" textLength="27.4" lengthAdjust="spacingAndGlyphs">3500</text>
<text class="c" x="643.3" y="136.20" font-size="12.2" fill="#111" textLength="27.4" lengthAdjust="spacingAndGlyphs">4000</text>
<text class="c" x="643.3" y="106.00" font-size="12.2" fill="#111" textLength="27.4" lengthAdjust="spacingAndGlyphs">4500</text>
<text class="c" x="643.3" y="75.80" font-size="12.2" fill="#111" textLength="27.4" lengthAdjust="spacingAndGlyphs">5000</text>
<text class="c" transform="translate(676.6,165.6) rotate(90)" font-size="14.4" fill="#1c1c1c" textLength="84.6" lengthAdjust="spacingAndGlyphs">Index points</text>
<text class="c" x="59.6" y="384.2" font-size="12.2" fill="#111" textLength="61.8" lengthAdjust="spacingAndGlyphs">2000-2004</text>
<text class="c" x="192.8" y="384.2" font-size="12.2" fill="#111" textLength="61.8" lengthAdjust="spacingAndGlyphs">2005-2009</text>
<text class="c" x="325.9" y="384.2" font-size="12.2" fill="#111" textLength="61.8" lengthAdjust="spacingAndGlyphs">2010-2014</text>
<text class="c" x="459.3" y="384.2" font-size="12.2" fill="#111" textLength="61.8" lengthAdjust="spacingAndGlyphs">2015-2019</text>
<text class="c" x="566.7" y="384.2" font-size="12.2" fill="#111" textLength="61.8" lengthAdjust="spacingAndGlyphs">2020-2024</text>
<text x="-2.4" y="33.2" font-size="19.6" font-weight="bold" fill="#000" textLength="146" lengthAdjust="spacingAndGlyphs">Bear With Me</text>
<text x="-2" y="51.5" font-size="14.7" font-weight="bold" fill="#000" style="word-spacing:2.2px" textLength="515.6" lengthAdjust="spacingAndGlyphs">Stock market recoveries tend to be slow when recession strikes</text>
<text x="0" y="398.8" font-size="10" font-weight="bold" fill="#000">Source: <tspan dx="1.4">Bloomberg</tspan></text>
<text x="603.6" y="398.3" font-size="13" font-weight="bold" fill="#111" style="font-family:'Liberation Sans',sans-serif" textLength="69" lengthAdjust="spacingAndGlyphs">Bloomberg</text>
<g><path d="M680.3 388 h7.4 a1.4 1.4 0 0 1 1.4 1.4 v7.1 a1.4 1.4 0 0 1 -1.4 1.4 h-2.3 l-1.7 1.9 l-1.7 -1.9 h-1.7 a1.4 1.4 0 0 1 -1.4 -1.4 v-7.1 a1.4 1.4 0 0 1 1.4 -1.4 z" fill="#0a0a0a"/>
<rect x="680.2" y="394" width="1" height="1.9" fill="#fff"/><rect x="682.2" y="391.8" width="1" height="4.1" fill="#fff"/><rect x="684.2" y="390.7" width="1" height="5.2" fill="#fff"/><rect x="686.2" y="394" width="1" height="1.9" fill="#fff"/></g>
</svg>
</body></html>
